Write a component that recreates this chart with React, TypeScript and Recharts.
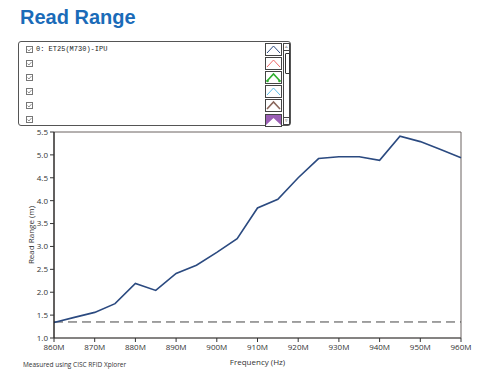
import React from 'react';
import { LineChart, Line, XAxis, YAxis, ReferenceLine, ReferenceArea } from 'recharts';

const frequencies = [860, 865, 870, 875, 880, 885, 890, 895, 900, 905, 910, 915, 920, 925, 930, 935, 940, 945, 950, 955, 960];
const readRange = [1.34, 1.45, 1.56, 1.75, 2.19, 2.04, 2.41, 2.59, 2.87, 3.17, 3.84, 4.03, 4.5, 4.92, 4.96, 4.96, 4.88, 5.41, 5.29, 5.12, 4.94];
const thresholdValue = 1.35;
const xTicks = [860, 870, 880, 890, 900, 910, 920, 930, 940, 950, 960];
const yTicks = [1.0, 1.5, 2.0, 2.5, 3.0, 3.5, 4.0, 4.5, 5.0, 5.5];
const seriesName = '0: ET25(M730)-IPU';
const titleText = 'Read Range';
const footnote = 'Measured using CISC RFID Xplorer';
const legendColors = ['#2b4a80', '#f06a6a', '#2fb02f', '#5bbde8', '#8a675c', '#9b5fb5'];

const data = frequencies.map((f, i) => ({ f, v: readRange[i] }));

const tickStyle = { fontSize: 8, fill: '#333', fontFamily: 'Open Sans, sans-serif' };

function Icon({ i, color }: { i: number; color: string }) {
  return (
    <svg width={17} height={13} style={{ display: 'block' }}>
      <rect x={0.5} y={0.5} width={16} height={12} fill="#fff" stroke="#444" />
      {i === 5 ? (
        <polygon points="1,1 16,1 16,11 8.5,4 1,11" fill={color} />
      ) : (
        <polyline points="2,10 8.5,3 15,10" fill="none" stroke={color} strokeWidth={i === 2 || i === 4 ? 1.6 : 1} />
      )}
      {i === 2 && (
        <g fill={color}>
          <circle cx={2.5} cy={10} r={1.3} />
          <circle cx={14.5} cy={10} r={1.3} />
        </g>
      )}
    </svg>
  );
}

function Check() {
  return (
    <svg width={7} height={7} style={{ display: 'block' }}>
      <rect x={0.5} y={0.5} width={6} height={6} fill="#fff" stroke="#777" />
      <polyline points="1.5,3.5 3,5 5.5,2" fill="none" stroke="#777" strokeWidth={0.8} />
    </svg>
  );
}

export default function App() {
  return (
    <div style={{ position: 'absolute', left: 0, top: 0, width: 500, height: 380, background: '#fff', overflow: 'hidden' }}>
      <div style={{ position: 'absolute', left: 20, top: 6, fontFamily: 'Liberation Sans, Arial, sans-serif', fontWeight: 'bold', fontSize: 20, color: '#1a6bb8', lineHeight: '23px' }}>
        {titleText}
      </div>
      <div style={{ position: 'absolute', left: 18, top: 41, width: 273, height: 85, border: '1px solid #555', borderRadius: 3, boxSizing: 'border-box', background: '#fff' }}>
        {legendColors.map((c, i) => (
          <React.Fragment key={i}>
            <div style={{ position: 'absolute', left: 7, top: 4 + i * 14 }}>
              <Check />
            </div>
            {i === 0 && (
              <div style={{ position: 'absolute', left: 17, top: 2, fontFamily: 'Liberation Mono, monospace', fontSize: 7, color: '#222', lineHeight: '10px', whiteSpace: 'nowrap' }}>
                {seriesName}
              </div>
            )}
            <div style={{ position: 'absolute', left: 246, top: 1 + i * 14.1 }}>
              <Icon i={i} color={c} />
            </div>
          </React.Fragment>
        ))}
        <div style={{ position: 'absolute', left: 264, top: 1, width: 7, height: 82, border: '1px solid #444', boxSizing: 'border-box', background: '#fff' }}>
          <div style={{ position: 'absolute', left: 0, top: 0, width: 5, height: 6, borderBottom: '1px solid #444', fontSize: 5, lineHeight: '6px', textAlign: 'center', color: '#333' }}>▵</div>
          <div style={{ position: 'absolute', left: 1, top: 9, width: 3, height: 19, border: '1px solid #333', borderRadius: 1 }} />
          <div style={{ position: 'absolute', left: 0, bottom: 0, width: 5, height: 6, borderTop: '1px solid #444', fontSize: 5, lineHeight: '6px', textAlign: 'center', color: '#333' }}>▿</div>
        </div>
      </div>
      <div style={{ position: 'absolute', left: 0, top: 0 }}>
        <LineChart width={500} height={380} data={data} margin={{ top: 132, right: 39, bottom: 0, left: 0 }}>
          <ReferenceArea x1={860} x2={960} y1={1} y2={5.5} fill="none" stroke="#6b6360" strokeWidth={1} ifOverflow="visible" />
          <XAxis
            dataKey="f"
            type="number"
            domain={[860, 960]}
            ticks={xTicks}
            tickFormatter={(v: number) => `${v}M`}
            height={42}
            tick={tickStyle}
            tickSize={4}
            axisLine={{ stroke: '#555' }}
            tickLine={{ stroke: '#333' }}
            interval={0}
            label={{ value: 'Frequency (Hz)', position: 'center', dy: 3, style: { fontSize: 8, fill: '#333', fontFamily: 'Open Sans, sans-serif' } }}
          />
          <YAxis
            type="number"
            domain={[1, 5.5]}
            ticks={yTicks}
            tickFormatter={(v: number) => v.toFixed(1)}
            width={54}
            tick={tickStyle}
            tickSize={4}
            axisLine={{ stroke: '#111' }}
            tickLine={{ stroke: '#333' }}
            interval={0}
            label={{ value: 'Read Range (m)', angle: -90, position: 'center', dx: 4, style: { fontSize: 8, fill: '#333', fontFamily: 'Open Sans, sans-serif', textAnchor: 'middle' } }}
          />
          <ReferenceLine y={thresholdValue} stroke="#444" strokeDasharray="9 5" strokeWidth={1} />
          <Line type="linear" dataKey="v" stroke="#2b4a80" strokeWidth={1.6} dot={false} isAnimationActive={false} />
        </LineChart>
      </div>
      <div style={{ position: 'absolute', left: 23, top: 360, fontFamily: 'Open Sans, sans-serif', fontSize: 6.5, color: '#333', whiteSpace: 'nowrap', lineHeight: '9px' }}>
        {footnote}
      </div>
    </div>
  );
}
